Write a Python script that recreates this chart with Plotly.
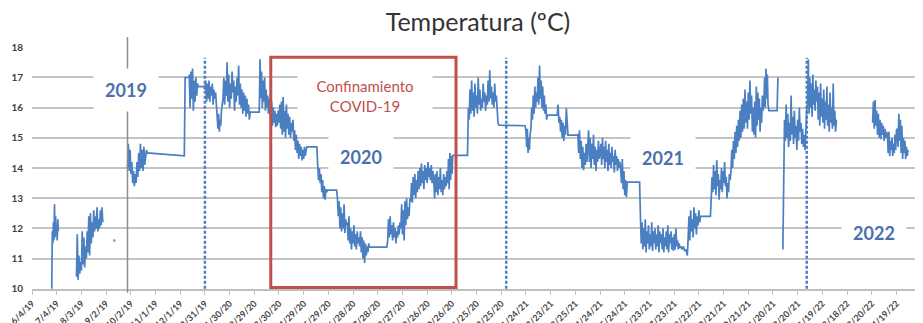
import pandas as pd
import plotly.graph_objects as go

# ---------------- data ----------------
title_text = "Temperatura (ºC)"

# each piece: (first date, last date, temperatures sampled evenly in between)
seg_a = [10.0, 11.9, 11.5, 12.2, 11.6, 12.8, 11.7, 12.4, 11.8, 12.0, 11.6, 12.3, 11.9]
seg_b = [10.4, 11.8, 10.3, 11.1, 10.5, 10.9, 10.6, 11.9, 10.8, 11.7, 10.7, 11.4, 11.0,
         11.9, 11.2, 12.4, 11.1, 12.5, 11.5, 12.2, 11.7, 12.6, 11.9, 12.4, 12.0, 12.7,
         11.9, 12.3, 12.0, 12.6, 12.1, 12.7, 12.2]
seg_c = [14.0, 14.8, 13.9, 14.6, 13.8, 14.2, 13.5, 13.9, 13.4, 13.8, 13.5, 14.2, 13.7,
         14.5, 13.9, 14.8, 14.0, 14.6, 13.9, 14.7, 14.1, 14.4, 14.6]
seg_d = [17.1, 16.0, 17.2, 16.3, 17.3, 15.9, 16.9, 16.2, 17.0, 16.4, 16.8]
seg_e = [16.6, 16.9, 16.2, 16.8, 16.3, 16.9, 16.2, 16.7, 16.4, 16.8, 16.1, 16.6, 16.3, 16.5, 16.0]
seg_f = [15.9, 15.3, 15.8, 15.2, 15.6, 15.4, 15.9, 16.2]
seg_g = [16.3, 17.0, 16.1, 16.9, 16.4, 17.5, 16.2, 17.1, 16.0, 16.8, 16.3, 17.2, 16.5,
         16.9, 15.9, 16.7, 16.2, 17.0, 16.4, 17.4, 16.1, 16.8, 16.0, 16.6, 15.8, 16.5,
         15.9, 16.4, 15.7, 16.3, 15.8, 16.1, 15.6]
seg_h = [17.6, 16.3, 17.2, 16.0, 16.9, 16.2, 17.0, 15.9, 16.6, 16.0, 16.4, 15.8, 16.3, 15.7]
seg_i = [15.6, 16.2, 15.4, 16.0, 15.5, 15.9, 15.35, 15.8, 15.4, 15.9, 15.5, 16.1]
seg_j = [15.3, 16.2, 15.1, 16.35, 15.2, 15.9, 15.0, 16.1, 15.3, 15.8, 15.1, 15.7, 15.0, 15.5, 15.2, 15.6]
seg_k = [14.9, 15.25, 14.6, 15.1, 14.5, 14.9, 14.3, 14.8, 14.4, 14.7, 14.25, 14.6, 14.3,
         14.7, 14.4, 14.6, 14.7]
seg_l = [14.1, 13.6, 14.0, 13.5, 13.8, 13.2, 13.6, 13.0, 13.4, 12.95, 13.3, 13.2]
seg_m = [13.0, 12.4, 12.9, 12.0, 12.7, 11.9, 12.5, 12.0, 12.8, 11.85, 12.3, 12.1]
seg_n = [12.2, 11.6, 12.4, 11.5, 12.0, 11.3, 11.9, 11.5, 12.1, 11.4, 11.8, 11.3, 11.9, 11.5, 11.7, 11.4]
seg_o = [11.9, 11.2, 11.7, 11.0, 11.6, 10.85, 11.5, 11.1, 11.4, 11.2, 11.5, 11.38]
seg_p = [11.6, 12.3, 11.7, 12.4, 11.8, 12.1, 11.6, 12.2, 11.7, 12.0, 11.5, 11.9, 11.7, 12.1, 11.8, 12.2]
seg_q = [12.0, 12.8, 11.8, 12.6, 11.6, 12.9, 12.1, 13.0, 12.3, 12.7, 12.4, 13.0]
seg_r = [12.9, 13.5, 12.85, 13.7, 13.1, 13.8, 13.0, 13.6, 13.2, 13.9, 13.3, 14.0, 13.4,
         14.15, 13.5, 13.9, 13.3, 14.1, 13.6, 14.0, 13.5, 14.2, 13.7, 14.0, 13.6, 14.1, 13.5, 13.9]
seg_s = [13.6, 13.0, 13.8, 13.2, 13.9, 13.1, 13.7, 13.3, 14.0, 13.2, 13.6, 13.1, 13.8,
         13.3, 13.7, 13.4, 13.9]
seg_t = [13.5, 14.3, 13.3, 14.5, 13.6, 14.4, 13.8, 14.42]
seg_u = [16.0, 15.6, 16.6, 15.8, 16.9, 15.9, 16.5, 15.7, 16.8, 16.0, 16.4, 15.8, 17.0,
         16.1, 16.6, 15.9, 16.3, 16.0, 16.8, 16.2, 16.5, 15.9, 16.4, 16.1, 16.9, 16.2,
         17.24, 16.3, 16.7, 16.1, 16.5, 16.0, 16.8, 16.2, 16.4, 15.8, 15.5]
seg_v = [15.2, 14.7, 15.3, 14.5, 15.0, 14.6, 15.1]
seg_w = [15.3, 16.0, 15.6, 16.4, 15.8, 16.7, 16.0, 16.5, 16.2, 17.0, 16.1, 17.4, 16.3,
         16.9, 16.0, 16.7, 15.9, 16.4, 15.8, 16.1, 15.6, 15.75]
seg_x = [16.1, 15.5, 15.7, 15.2, 15.6, 15.0, 15.5, 14.9, 15.4, 15.1, 15.98, 15.2]
seg_y = [15.1, 14.5, 15.25, 14.3, 14.9, 14.0, 14.7, 13.93, 14.5, 14.1, 14.8, 14.2]
seg_z = [14.6, 15.25, 14.2, 15.0, 14.0, 14.8, 14.3, 15.1, 14.1, 14.7, 13.9, 14.6, 14.2, 14.9, 14.3, 14.5]
seg_aa = [14.8, 14.1, 15.0, 14.3, 14.7, 14.0, 14.9, 14.2, 14.6, 13.9, 14.8, 14.1, 14.5,
          14.0, 14.7, 14.2, 14.4, 13.85, 14.6, 14.1, 14.4, 13.9, 14.3, 14.0, 14.2]
seg_ab = [14.0, 13.5, 14.3, 13.3, 13.9, 13.1, 13.6, 13.03, 13.53]
seg_ac = [12.4, 11.5, 12.2, 11.3, 12.0, 11.4, 12.3, 11.2, 11.9, 11.5, 12.1, 11.3, 11.8,
          11.4, 12.2, 11.25, 11.9, 11.5, 12.0, 11.3, 11.8, 11.4, 12.1, 11.2, 11.9, 11.5,
          11.8, 11.3, 12.0, 11.2, 11.7, 11.4, 11.9, 11.3, 12.1, 11.2, 11.8, 11.5, 11.9,
          11.3, 11.7, 11.25, 11.8, 11.3, 12.0, 11.4, 11.6, 11.3, 11.5, 11.35]
seg_ad = [11.4, 11.3, 11.4, 11.25, 11.3, 11.1]
seg_ae = [11.7, 12.4, 11.6, 12.6, 11.9, 12.3, 11.7, 12.7, 12.0, 12.5, 11.8, 12.4, 12.1, 12.6, 12.2, 12.4]
seg_af = [13.0, 13.7, 13.2, 14.1, 13.3, 13.9, 13.1, 14.26, 13.4, 13.8, 12.95, 13.6, 13.3,
          14.0, 13.2, 13.9, 13.5, 14.2, 13.4, 13.7, 13.0, 13.5, 13.2, 13.8, 13.6]
seg_ag = [13.9, 14.6, 14.0, 14.9, 14.3, 15.2, 14.5, 15.4, 14.7, 15.6, 14.9, 15.9, 15.0,
          16.1, 15.2, 16.3, 15.3, 16.6, 15.5, 16.2, 15.3, 16.5, 15.6, 16.9, 15.8, 16.4, 15.2, 16.0]
seg_ah = [15.1, 16.2, 15.0, 16.7, 15.4, 16.5, 15.6, 16.3, 15.2, 16.0, 15.5, 16.4, 15.9]
seg_ai = [16.2, 17.0, 16.0, 17.3, 16.3, 17.1, 16.1]
seg_aj = [11.3, 14.8, 15.6, 14.9, 16.1, 15.0, 15.8, 14.7, 15.5, 14.9, 16.4, 15.1, 15.7,
          14.8, 15.9, 15.0, 15.4, 14.6, 15.6, 14.9, 16.0, 15.2, 15.5, 14.8, 15.3, 14.7,
          15.1, 14.6, 15.4, 15.9]
seg_ak = [16.2, 17.6, 15.8, 17.0, 16.0, 16.8, 15.7, 17.1, 16.1, 16.6, 15.9, 16.9, 16.2]
seg_al = [16.7, 15.6, 16.5, 15.4, 16.8, 15.7, 16.3, 15.5, 16.6, 15.3, 16.2, 15.6, 16.7,
          15.4, 16.1, 15.2, 16.5, 15.5, 16.0, 15.3, 16.8, 15.4, 15.9, 15.2, 15.6]
seg_am = [15.5, 16.2, 15.3, 16.25, 15.4, 15.9, 15.1, 15.8, 15.0, 15.6, 14.95, 15.5, 15.1,
          15.4, 14.9, 15.3, 15.0, 15.2]
seg_an = [15.1, 14.5, 15.2, 14.4, 14.9, 14.6, 15.0, 14.4, 14.8, 14.5, 15.1, 14.6, 15.25]
seg_ao = [15.3, 14.7, 15.8, 14.9, 15.6, 14.5, 15.4, 14.3, 15.0, 14.5, 14.9, 14.3, 14.7, 14.4, 14.6]

# order of pieces; None = no data (line broken)
sequence = [
    ("2019-06-28", "2019-07-06", seg_a),
    None,
    ("2019-07-28", "2019-08-29", seg_b),
    None,
    ("2019-09-28", "2019-10-21", seg_c),
    ("2019-10-22", "2019-12-06", [14.5, 14.4]),
    ("2019-12-07", "2019-12-12", [17.0, 17.0]),
    ("2019-12-12", "2019-12-22", seg_d),
    ("2019-12-23", "2019-12-30", [16.7, 16.7]),
    ("2019-12-31", "2020-01-14", seg_e),
    ("2020-01-15", "2020-01-21", seg_f),
    ("2020-01-22", "2020-02-23", seg_g),
    ("2020-02-24", "2020-03-06", [15.85, 15.85]),
    ("2020-03-07", "2020-03-19", seg_h),
    ("2020-03-20", "2020-03-31", seg_i),
    ("2020-04-01", "2020-04-16", seg_j),
    ("2020-04-17", "2020-05-03", seg_k),
    ("2020-05-04", "2020-05-15", [14.7, 14.7]),
    ("2020-05-16", "2020-05-27", seg_l),
    ("2020-05-28", "2020-06-08", [13.27, 13.27]),
    ("2020-06-09", "2020-06-20", seg_m),
    ("2020-06-21", "2020-07-06", seg_n),
    ("2020-07-07", "2020-07-18", seg_o),
    ("2020-07-19", "2020-08-08", [11.38, 11.38]),
    ("2020-08-09", "2020-08-24", seg_p),
    ("2020-08-25", "2020-09-05", seg_q),
    ("2020-09-06", "2020-10-03", seg_r),
    ("2020-10-04", "2020-10-20", seg_s),
    ("2020-10-21", "2020-10-27", seg_t),
    ("2020-10-28", "2020-11-14", [14.42, 14.42]),
    ("2020-11-15", "2020-12-21", seg_u),
    ("2020-12-22", "2021-01-23", [15.42, 15.4]),
    ("2021-01-24", "2021-01-29", seg_v),
    ("2021-01-30", "2021-02-19", seg_w),
    ("2021-02-20", "2021-03-03", [15.75, 15.75]),
    ("2021-03-04", "2021-03-15", seg_x),
    ("2021-03-16", "2021-03-27", [15.09, 15.09]),
    ("2021-03-28", "2021-04-08", seg_y),
    ("2021-04-09", "2021-04-24", seg_z),
    ("2021-04-25", "2021-05-18", seg_aa),
    ("2021-05-19", "2021-05-27", seg_ab),
    ("2021-05-28", "2021-06-11", [13.53, 13.53]),
    ("2021-06-12", "2021-07-30", seg_ac),
    ("2021-07-31", "2021-08-08", seg_ad),
    ("2021-08-09", "2021-08-24", seg_ae),
    ("2021-08-25", "2021-09-05", [12.4, 12.4]),
    ("2021-09-06", "2021-09-29", seg_af),
    ("2021-09-30", "2021-10-27", seg_ag),
    ("2021-10-28", "2021-11-08", seg_ah),
    ("2021-11-09", "2021-11-14", seg_ai),
    ("2021-11-15", "2021-11-25", [15.9, 15.9]),
    ("2021-11-26", "2021-11-26", [17.0]),
    None,
    ("2021-12-02", "2021-12-31", seg_aj),
    ("2022-01-01", "2022-01-12", seg_ak),
    ("2022-01-13", "2022-02-05", seg_al),
    None,
    ("2022-03-21", "2022-04-07", seg_am),
    ("2022-04-08", "2022-04-19", seg_an),
    ("2022-04-20", "2022-05-03", seg_ao),
]

stray_dates = ["2019-09-12"]
stray_values = [11.6]

year_end_dates = ["2019-12-31", "2020-12-31", "2021-12-31"]
marker_line_date = "2019-09-28"
lockdown_start, lockdown_end = "2020-03-20", "2020-10-31"
year_labels = ["2019", "2020", "2021", "2022"]
year_label_dates = ["2019-09-26", "2020-07-07", "2021-07-09", "2022-03-23"]
year_label_values = [16.6, 14.36, 14.33, 11.85]
lockdown_label = "Confinamiento<br>COVID-19"
lockdown_label_date, lockdown_label_value = "2020-07-12", 16.4

axis_start, axis_end = "2019-06-04", "2022-05-20"

# ---------------- build series ----------------
xs, ys = [], []
for item in sequence:
    if item is None:
        xs.append(None)
        ys.append(None)
        continue
    start, end, vals = item
    if len(vals) == 1:
        dates = [pd.Timestamp(start)]
    else:
        dates = list(pd.date_range(start, end, periods=len(vals)))
    xs.extend([d.strftime("%Y-%m-%d %H:%M:%S") for d in dates])
    ys.extend(vals)

BLUE = "#4a7fc1"
LABEL_BLUE = "#4a70ad"
RED = "#c0504d"
FONT = "Lato, 'Open Sans', sans-serif"

# the page body adds an 8px offset, so the figure is 8px smaller than the window
OFF = 8
W, H = 923 - OFF, 323 - OFF

fig = go.Figure()
fig.add_trace(go.Scatter(x=xs, y=ys, mode="lines", connectgaps=False,
                         line=dict(color=BLUE, width=1.7), hoverinfo="skip",
                         showlegend=False))
fig.add_trace(go.Scatter(x=stray_dates, y=stray_values, mode="markers",
                         marker=dict(color="#8fb0dc", size=3), showlegend=False))

shapes = []
# gray solid marker line
shapes.append(dict(type="line", xref="x", yref="paper", x0=marker_line_date,
                   x1=marker_line_date, y0=-0.015, y1=1.041,
                   line=dict(color="#8c8c8c", width=1.5)))
for d in year_end_dates:
    shapes.append(dict(type="line", xref="x", yref="y", x0=d, x1=d, y0=10.0, y1=17.65,
                       line=dict(color=BLUE, width=2.5, dash="3px,2px")))
shapes.append(dict(type="rect", xref="x", yref="y", x0=lockdown_start, x1=lockdown_end,
                   y0=10.04, y1=17.67, line=dict(color=RED, width=3),
                   fillcolor="rgba(0,0,0,0)"))

annotations = []
for lab, d, v in zip(year_labels, year_label_dates, year_label_values):
    annotations.append(dict(x=d, y=v, xref="x", yref="y", text="<b>%s</b>" % lab,
                            showarrow=False, font=dict(family=FONT, size=18, color=LABEL_BLUE),
                            bgcolor="white", width=64, height=42, borderpad=0))
annotations.append(dict(x=lockdown_label_date, y=lockdown_label_value, xref="x", yref="y",
                        text=lockdown_label, showarrow=False,
                        font=dict(family=FONT, size=15, color=RED),
                        bgcolor="white", width=134, height=50, borderpad=0))

fig.update_layout(
    width=W, height=H,
    margin=dict(l=32 - OFF, r=1, t=47 - OFF, b=34),
    paper_bgcolor="white", plot_bgcolor="white",
    title=dict(text=title_text, x=(478 - OFF) / W, xanchor="center", xref="container",
               y=1 - (22 - OFF) / H, yanchor="middle", yref="container",
               font=dict(family=FONT, size=25, color="#333333")),
    shapes=shapes, annotations=annotations,
    showlegend=False,
)
fig.update_xaxes(
    type="date", range=[axis_start, axis_end], automargin=False,
    tick0="2019-06-04", dtick=30 * 86400000, tickformat="%-m/%-d/%y",
    tickangle=-45, tickfont=dict(family=FONT, size=9, color="#454545", weight="bold"),
    showgrid=False, showline=True, linecolor="#bfbfbf", linewidth=1.5,
    ticks="outside", ticklen=4, tickcolor="#bfbfbf", zeroline=False,
)
fig.update_yaxes(
    range=[9.99, 18.01], tick0=10, dtick=1, tickformat="d", automargin=False,
    tickfont=dict(family=FONT, size=10, color="#404040", weight="bold"),
    showgrid=True, gridcolor="#c4c4c4", gridwidth=1.5,
    showline=False, zeroline=False, ticks="", ticklabelstandoff=8,
)

fig.write_html("out.html")
